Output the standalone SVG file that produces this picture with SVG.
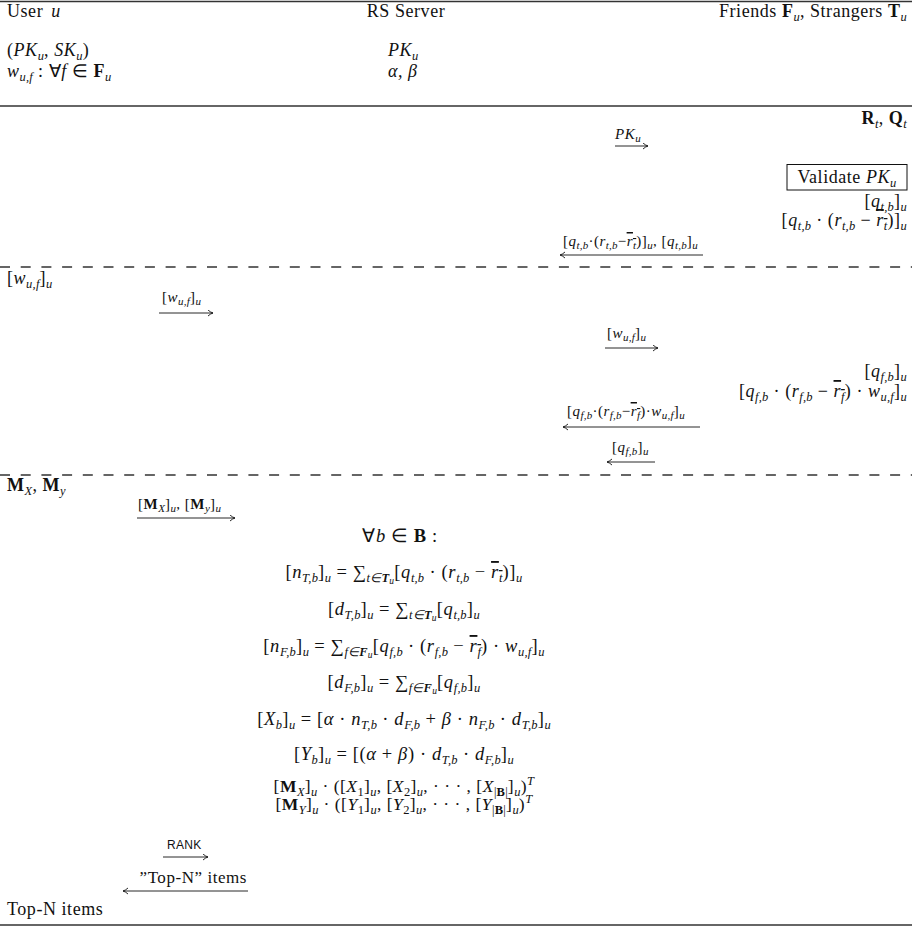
<svg xmlns="http://www.w3.org/2000/svg" width="923" height="926" viewBox="0 0 923 926">
<style>
text { font-family: "Liberation Serif", "Times New Roman", serif; font-size: 18px; letter-spacing: 0.55px; fill: #111; }
.i { font-style: italic; }
.b { font-weight: bold; }
.s { font-size: 12.5px; baseline-shift: -4px; letter-spacing: 0.2px; }
.ss { font-size: 9.5px; baseline-shift: -2px; }
.sup { font-size: 12.5px; baseline-shift: 7px; }
.sm { font-size: 15px; letter-spacing: 0.5px; }
.sm .s { font-size: 11px; baseline-shift: -3px; }
.ov { text-decoration: overline; }
.eq { text-anchor: middle; font-size: 18.5px; letter-spacing: 0.6px; }
.mx { font-size: 17.5px; letter-spacing: 0.5px; }
.r { text-anchor: end; }
.sans { font-family: "Liberation Sans", Arial, sans-serif; font-size: 12px; letter-spacing: 0.3px; }
.rule { stroke: #333; stroke-width: 1.3; }
.dash { stroke: #333; stroke-width: 1.3; stroke-dasharray: 10 10.7; }
.arr { stroke: #111; stroke-width: 0.9; fill: none; marker-end: url(#ah); }
</style>
<defs>
<marker id="ah" markerUnits="userSpaceOnUse" markerWidth="8" markerHeight="8" refX="5.5" refY="3.5" orient="auto">
<path d="M0.5,0.5 Q3,2.8 5.5,3.5 Q3,4.2 0.5,6.5" fill="none" stroke="#111" stroke-width="0.9"/>
</marker>
</defs>

<g id="rules">
<line class="rule" x1="0" y1="1.5" x2="912" y2="1.5"/>
<line class="rule" x1="0" y1="106" x2="912" y2="106"/>
<line class="dash" x1="0" y1="267" x2="912" y2="267"/>
<line class="dash" x1="0" y1="475" x2="912" y2="475"/>
<line class="rule" x1="0" y1="925" x2="912" y2="925"/>
</g>

<g id="user">
<text x="7" y="17">User <tspan class="i" dx="3">u</tspan></text>
<text x="7" y="56">(<tspan class="i">PK</tspan><tspan class="s i">u</tspan>, <tspan class="i">SK</tspan><tspan class="s i">u</tspan>)</text>
<text x="7" y="77"><tspan class="i">w</tspan><tspan class="s i">u,f</tspan> : ∀<tspan class="i">f</tspan> ∈ <tspan class="b">F</tspan><tspan class="s i">u</tspan></text>
<text x="7" y="284">[<tspan class="i">w</tspan><tspan class="s i">u,f</tspan>]<tspan class="s i">u</tspan></text>
<text x="7" y="491"><tspan class="b">M</tspan><tspan class="s i">X</tspan>, <tspan class="b">M</tspan><tspan class="s i">y</tspan></text>
<text x="7" y="915">Top-N items</text>
</g>

<g id="server">
<text x="406" y="17" text-anchor="middle">RS Server</text>
<text x="388" y="56"><tspan class="i">PK</tspan><tspan class="s i">u</tspan></text>
<text x="388" y="77" class="i">α, β</text>
<text class="eq" x="400" y="542">∀<tspan class="i">b</tspan> ∈ <tspan class="b">B</tspan> :</text>
<text class="eq" x="404" y="578">[<tspan class="i">n</tspan><tspan class="s i">T,b</tspan>]<tspan class="s i">u</tspan> = ∑<tspan class="s i">t∈<tspan class="b">T</tspan><tspan class="ss">u</tspan></tspan>[<tspan class="i">q</tspan><tspan class="s i">t,b</tspan> · (<tspan class="i">r</tspan><tspan class="s i">t,b</tspan> − <tspan class="i ov">r<tspan class="s">t</tspan></tspan>)]<tspan class="s i">u</tspan></text>
<text class="eq" x="404" y="615">[<tspan class="i">d</tspan><tspan class="s i">T,b</tspan>]<tspan class="s i">u</tspan> = ∑<tspan class="s i">t∈<tspan class="b">T</tspan><tspan class="ss">u</tspan></tspan>[<tspan class="i">q</tspan><tspan class="s i">t,b</tspan>]<tspan class="s i">u</tspan></text>
<text class="eq" x="404" y="652">[<tspan class="i">n</tspan><tspan class="s i">F,b</tspan>]<tspan class="s i">u</tspan> = ∑<tspan class="s i">f∈<tspan class="b">F</tspan><tspan class="ss">u</tspan></tspan>[<tspan class="i">q</tspan><tspan class="s i">f,b</tspan> · (<tspan class="i">r</tspan><tspan class="s i">f,b</tspan> − <tspan class="i ov">r<tspan class="s">f</tspan></tspan>) · <tspan class="i">w</tspan><tspan class="s i">u,f</tspan>]<tspan class="s i">u</tspan></text>
<text class="eq" x="404" y="688">[<tspan class="i">d</tspan><tspan class="s i">F,b</tspan>]<tspan class="s i">u</tspan> = ∑<tspan class="s i">f∈<tspan class="b">F</tspan><tspan class="ss">u</tspan></tspan>[<tspan class="i">q</tspan><tspan class="s i">f,b</tspan>]<tspan class="s i">u</tspan></text>
<text class="eq" x="404" y="725">[<tspan class="i">X</tspan><tspan class="s i">b</tspan>]<tspan class="s i">u</tspan> = [<tspan class="i">α</tspan> · <tspan class="i">n</tspan><tspan class="s i">T,b</tspan> · <tspan class="i">d</tspan><tspan class="s i">F,b</tspan> + <tspan class="i">β</tspan> · <tspan class="i">n</tspan><tspan class="s i">F,b</tspan> · <tspan class="i">d</tspan><tspan class="s i">T,b</tspan>]<tspan class="s i">u</tspan></text>
<text class="eq" x="404" y="760">[<tspan class="i">Y</tspan><tspan class="s i">b</tspan>]<tspan class="s i">u</tspan> = [(<tspan class="i">α</tspan> + <tspan class="i">β</tspan>) · <tspan class="i">d</tspan><tspan class="s i">T,b</tspan> · <tspan class="i">d</tspan><tspan class="s i">F,b</tspan>]<tspan class="s i">u</tspan></text>
<text class="eq mx" x="404" y="792">[<tspan class="b">M</tspan><tspan class="s i">X</tspan>]<tspan class="s i">u</tspan> · ([<tspan class="i">X</tspan><tspan class="s">1</tspan>]<tspan class="s i">u</tspan>, [<tspan class="i">X</tspan><tspan class="s">2</tspan>]<tspan class="s i">u</tspan>, · · · , [<tspan class="i">X</tspan><tspan class="s">|<tspan class="b">B</tspan>|</tspan>]<tspan class="s i">u</tspan>)<tspan class="sup i">T</tspan></text>
<text class="eq mx" x="404" y="810">[<tspan class="b">M</tspan><tspan class="s i">Y</tspan>]<tspan class="s i">u</tspan> · ([<tspan class="i">Y</tspan><tspan class="s">1</tspan>]<tspan class="s i">u</tspan>, [<tspan class="i">Y</tspan><tspan class="s">2</tspan>]<tspan class="s i">u</tspan>, · · · , [<tspan class="i">Y</tspan><tspan class="s">|<tspan class="b">B</tspan>|</tspan>]<tspan class="s i">u</tspan>)<tspan class="sup i">T</tspan></text>
</g>

<g id="peers">
<text x="907" y="17" class="r">Friends <tspan class="b">F</tspan><tspan class="s i">u</tspan>, Strangers <tspan class="b">T</tspan><tspan class="s i">u</tspan></text>
<text x="907" y="124" class="r"><tspan class="b">R</tspan><tspan class="s i">t</tspan>, <tspan class="b">Q</tspan><tspan class="s i">t</tspan></text>
<g id="validate">
<rect x="787" y="164.5" width="120" height="25.5" fill="none" stroke="#111" stroke-width="1"/>
<text x="847" y="183" text-anchor="middle">Validate <tspan class="i">PK</tspan><tspan class="s i">u</tspan></text>
</g>
<text x="907" y="207" class="r">[<tspan class="i">q</tspan><tspan class="s i">t,b</tspan>]<tspan class="s i">u</tspan></text>
<text x="907" y="226" class="r">[<tspan class="i">q</tspan><tspan class="s i">t,b</tspan> · (<tspan class="i">r</tspan><tspan class="s i">t,b</tspan> − <tspan class="i ov">r<tspan class="s">t</tspan></tspan>)]<tspan class="s i">u</tspan></text>
<text x="907" y="377" class="r">[<tspan class="i">q</tspan><tspan class="s i">f,b</tspan>]<tspan class="s i">u</tspan></text>
<text x="907" y="397" class="r">[<tspan class="i">q</tspan><tspan class="s i">f,b</tspan> · (<tspan class="i">r</tspan><tspan class="s i">f,b</tspan> − <tspan class="i ov">r<tspan class="s">f</tspan></tspan>) · <tspan class="i">w</tspan><tspan class="s i">u,f</tspan>]<tspan class="s i">u</tspan></text>
</g>

<g id="connectors">
<text class="sm" x="615" y="139"><tspan class="i">PK</tspan><tspan class="s i">u</tspan></text>
<line class="arr" x1="615" y1="146" x2="648" y2="146"/>
<text class="sm" x="563" y="246">[<tspan class="i">q</tspan><tspan class="s i">t,b</tspan>·(<tspan class="i">r</tspan><tspan class="s i">t,b</tspan>−<tspan class="i ov">r<tspan class="s">t</tspan></tspan>)]<tspan class="s i">u</tspan>, [<tspan class="i">q</tspan><tspan class="s i">t,b</tspan>]<tspan class="s i">u</tspan></text>
<line class="arr" x1="703" y1="255" x2="560" y2="255"/>
<text class="sm" x="162" y="302">[<tspan class="i">w</tspan><tspan class="s i">u,f</tspan>]<tspan class="s i">u</tspan></text>
<line class="arr" x1="159" y1="313" x2="213" y2="313"/>
<text class="sm" x="607" y="338">[<tspan class="i">w</tspan><tspan class="s i">u,f</tspan>]<tspan class="s i">u</tspan></text>
<line class="arr" x1="605" y1="348" x2="658" y2="348"/>
<text class="sm" x="567" y="416">[<tspan class="i">q</tspan><tspan class="s i">f,b</tspan>·(<tspan class="i">r</tspan><tspan class="s i">f,b</tspan>−<tspan class="i ov">r<tspan class="s">f</tspan></tspan>)·<tspan class="i">w</tspan><tspan class="s i">u,f</tspan>]<tspan class="s i">u</tspan></text>
<line class="arr" x1="700" y1="427" x2="563" y2="427"/>
<text class="sm" x="612" y="452">[<tspan class="i">q</tspan><tspan class="s i">f,b</tspan>]<tspan class="s i">u</tspan></text>
<line class="arr" x1="655" y1="462" x2="607" y2="462"/>
<text class="sm" x="138" y="509">[<tspan class="b">M</tspan><tspan class="s i">X</tspan>]<tspan class="s i">u</tspan>, [<tspan class="b">M</tspan><tspan class="s i">y</tspan>]<tspan class="s i">u</tspan></text>
<line class="arr" x1="137" y1="518" x2="235" y2="518"/>
<text class="sans" x="167" y="849">RANK</text>
<line class="arr" x1="163" y1="857" x2="208" y2="857"/>
<text x="247" y="883" text-anchor="end" style="font-size:17px">”Top-N” items</text>
<line class="arr" x1="248" y1="891" x2="123" y2="891"/>
</g>
</svg>
